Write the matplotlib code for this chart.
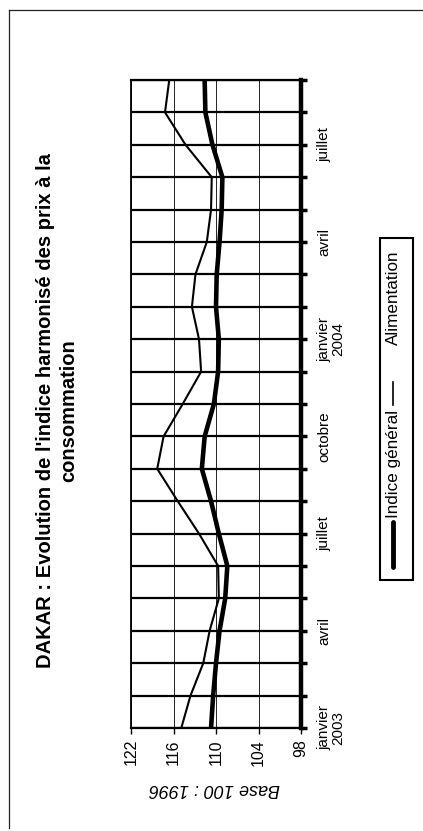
import matplotlib
matplotlib.use("Agg")
import matplotlib.pyplot as plt
from matplotlib.lines import Line2D
from matplotlib.patches import Rectangle

plt.rcParams['font.family'] = ['Liberation Sans', 'DejaVu Sans']

# monthly points, janvier 2003 .. septembre 2004 (base 100 : 1996)
months = list(range(21))
month_labels = {0: 'janvier\n2003', 3: 'avril', 6: 'juillet', 9: 'octobre',
                12: 'janvier\n2004', 15: 'avril', 18: 'juillet'}
alimentation = [114.9, 113.6, 111.8, 110.9, 109.6, 109.7, 112.4, 115.4, 118.3, 117.4,
                114.7, 112.1, 112.4, 113.4, 112.9, 111.3, 110.7, 110.6, 114.3, 117.2, 116.6]
indice_general = [110.7, 110.4, 110.0, 109.5, 108.7, 108.4, 109.6, 110.7, 112.0, 111.6,
                  110.3, 109.7, 109.6, 110.0, 109.9, 109.5, 109.2, 109.1, 110.5, 111.5, 111.6]
value_ticks = [122, 116, 110, 104, 98]

W, H = 423, 831
fig = plt.figure(figsize=(W / 100, H / 100), dpi=100)

# the whole chart is turned a quarter turn: months run upward, values leftward
ax = fig.add_axes([131 / W, 1 - 728 / H, 170 / W, 648 / H])
ax.plot(alimentation, months, color='black', lw=1.5, zorder=4)
ax.plot(indice_general, months, color='black', lw=3.3, zorder=5)
ax.set_xlim(122, 98)
ax.set_ylim(0, 20)

ax.set_xticks(value_ticks)
ax.set_xticklabels([str(v) for v in value_ticks], rotation=90, fontsize=11.5)
ax.tick_params(axis='x', direction='out', length=4, width=1, pad=4)
ax.grid(axis='x', color='black', lw=0.6)

ax.yaxis.tick_right()
ax.set_yticks(months)
ax.set_yticklabels([month_labels.get(m, '') for m in months], rotation=90,
                   va='center', ha='left', multialignment='center', fontsize=11,
                   linespacing=1.0)
ax.tick_params(axis='y', direction='out', length=4, width=2.5, pad=8)
ax.grid(axis='y', color='black', lw=1.6)
ax.set_axisbelow(True)

ax.spines['right'].set_linewidth(3.2)
ax.spines['left'].set_linewidth(1.3)
ax.spines['bottom'].set_linewidth(1.6)
ax.spines['top'].set_linewidth(1.6)

fig.text(215 / W, 1 - 789 / H, 'Base 100 : 1996', rotation=180, style='italic',
         fontsize=13, ha='center', va='center')

fig.text(57 / W, 1 - 411 / H,
         "DAKAR : Evolution de l'indice harmonisé des prix à la\nconsommation",
         rotation=90, fontsize=14.5, fontweight='bold', ha='center', va='center',
         multialignment='center', linespacing=1.3)

# outer frame (cut at right and bottom in the scan)
fig.add_artist(Line2D([9 / W, 9 / W], [1 - 828 / H, 1 - 10 / H], color='#222222', lw=0.9))
fig.add_artist(Line2D([9 / W, 1.0], [1 - 10 / H, 1 - 10 / H], color='#222222', lw=0.9))

# legend, drawn sideways
fig.add_artist(Rectangle((380 / W, 1 - 580 / H), 33 / W, 342 / H, facecolor='white',
                         edgecolor='black', lw=1.5))
lx = 393 / W
fig.add_artist(Line2D([lx, lx], [1 - 567 / H, 1 - 522 / H], color='black', lw=3.5,
                      solid_capstyle='round'))
fig.text(lx, 1 - 464 / H, 'Indice général', rotation=90, fontsize=12.3,
         ha='center', va='center')
fig.add_artist(Line2D([lx, lx], [1 - 405 / H, 1 - 382 / H], color='black', lw=1.2))
fig.text(lx, 1 - 298 / H, 'Alimentation', rotation=90, fontsize=12.3,
         ha='center', va='center')

fig.savefig('out.png', dpi=100)
